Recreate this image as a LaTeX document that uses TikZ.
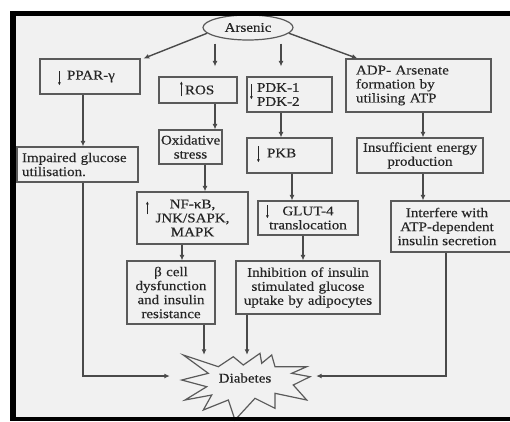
\documentclass[tikz,border=0pt]{standalone}
\usepackage{fontspec}
\setmainfont[FakeStretch=1.13,FakeBold=0.4]{Liberation Serif}
\usetikzlibrary{arrows.meta,calc,shapes.geometric}
\definecolor{bg}{HTML}{F1F1F1}
\definecolor{boxline}{HTML}{5A5A5A}
\definecolor{arrline}{HTML}{4A4A4A}
\definecolor{txt}{HTML}{262626}
\tikzset{
  box/.style={draw=boxline, line width=1.2pt, fill=bg, inner sep=0pt, text=txt,
    font=\fontsize{13.3}{14}\selectfont},
  cbox/.style n args={2}{box, minimum width=#1, minimum height=#2, text width=#1-4pt, inner xsep=2pt, align=center},
  lbox/.style n args={2}{box, minimum width=#1, minimum height=#2, text width=#1, inner xsep=0pt, align=left},
  arr/.style={draw=arrline, line width=1.4pt, -{Latex[length=5.5pt,width=5pt]}},
  sym/.style={draw=txt, line width=0.9pt, -{Latex[length=3pt,width=3pt]}},
}
\newcommand{\ind}[1]{\hspace*{#1}}
\begin{document}
\begin{tikzpicture}[x=1pt,y=-1pt]
\useasboundingbox (0,0) rectangle (510,421);
\fill[white] (0,0) rectangle (510,421);
\fill[bg] (10,11) rectangle (512,421);

% Arsenic
\node[ellipse, draw=boxline, line width=1.2pt, fill=bg, minimum width=90pt, minimum height=25pt, inner sep=0pt, text=txt, font=\fontsize{13.3}{14}\selectfont] (ars) at (248,27.5) {Arsenic};

% boxes
\node[lbox={100pt}{35pt}] (ppar) at (90,76.5) {\ind{27pt}PPAR-γ};
\node[lbox={78pt}{26pt}] (ros) at (198,90) {\ind{26pt}ROS};
\node[cbox={63pt}{34pt}] (oxi) at (190.5,147) {Oxidative\\stress};
\node[cbox={111pt}{52pt}] (nf) at (192.5,218) {NF-κB,\\JNK/SAPK,\\MAPK};
\node[cbox={88pt}{63pt}] (beta) at (171,292.5) {β cell\\dysfunction\\and insulin\\resistance};
\node[lbox={85pt}{35pt}] (pdk) at (289.5,94.5) {\ind{10pt}PDK-1\\\ind{10pt}PDK-2};
\node[lbox={85pt}{35pt}] (pkb) at (289.5,155.5) {\ind{20pt}\raisebox{5pt}{PKB}};
\node[cbox={100pt}{34pt}] (glut) at (308,218) {GLUT-4\\translocation};
\node[cbox={144pt}{53pt}] (inh) at (308,287.5) {Inhibition of insulin\\stimulated glucose\\uptake by adipocytes};
\node[lbox={145pt}{53pt}] (adp) at (418.5,85.5) {\ind{10pt}ADP- Arsenate\\\ind{10pt}formation by\\\ind{10pt}utilising ATP};
\node[cbox={126pt}{35pt}] (ins) at (420,155.5) {Insufficient energy\\production};
\node[box, minimum height=51pt] (intf) at (451,226.5) {\parbox{112pt}{\centering Interfere with\\ATP-dependent\\insulin secretion}\hspace*{8pt}};
\node[lbox={121pt}{35pt}] (imp) at (77.5,164.5) {\ind{5pt}Impaired glucose\\\ind{5pt}utilisation.};

% Diabetes
\node[minimum width=146pt, minimum height=42pt, inner sep=0pt] (dia) at (243,376) {};
\begin{scope}[shift={(dia.center)}]
\draw[draw=boxline, line width=1.2pt, fill=bg, line join=miter]
 (-59.7,-21) -- (-24.7,-9.3) -- (-9.7,-19.3) -- (0.3,-11) -- (17,-22.7) -- (18.7,-12.7)
 -- (28.7,-21) -- (32,-9.3) -- (63.7,-9.3) -- (48.7,-2.7) -- (67,0.7) -- (50.3,9)
 -- (63.7,24) -- (32,17.3) -- (32,32.3) -- (12,22.3) -- (-8,44) -- (-14.7,24)
 -- (-39.7,34) -- (-31.3,19) -- (-58,24) -- (-36.3,10.7) -- (-61.3,4) -- (-34.7,-2.7) -- cycle;
\node[text=txt, font=\fontsize{13.3}{14}\selectfont] (diatext) at (2,2) {Diabetes};
\end{scope}

% symbol arrows inside boxes
\draw[sym] ($(ppar.north west)+(20,13)$) -- ($(ppar.north west)+(20,27)$);
\draw[sym] ($(ros.north west)+(23,20)$) -- ($(ros.north west)+(23,5)$);
\draw[sym] ($(nf.north west)+(11,23)$) -- ($(nf.north west)+(11,10)$);
\draw[sym] ($(pdk.north west)+(5,8)$) -- ($(pdk.north west)+(5,23)$);
\draw[sym] ($(pkb.north west)+(12,9)$) -- ($(pkb.north west)+(12,25)$);
\draw[sym] ($(glut.north west)+(10,5)$) -- ($(glut.north west)+(10,18)$);

% x positions for vertical connectors
\coordinate (x83) at (83,0);
\coordinate (x215) at (215,0);
\coordinate (x281) at (281,0);
\coordinate (x205) at (205,0);
\coordinate (x182) at (182,0);
\coordinate (x292) at (292,0);
\coordinate (x303) at (303,0);
\coordinate (x423) at (423,0);
\coordinate (x204) at (204,0);
\coordinate (x247) at (247,0);
\coordinate (x446) at (446,0);

% connectors
\draw[arr] (ars.188) -- ([xshift=3pt]ppar.north east);
\draw[arr, shorten <=3pt, shorten >=10pt] (ars.south -| x215) -- (ros.north -| x215);
\draw[arr, shorten <=3pt, shorten >=10pt] (ars.south -| x281) -- (pdk.north -| x281);
\draw[arr] (ars.-8) -- ([xshift=12pt]adp.north west);
\draw[arr] (ppar.south -| x83) -- (imp.north -| x83);
\draw[arr] (ros.south -| x215) -- (oxi.north -| x215);
\draw[arr] (oxi.south -| x205) -- (nf.north -| x205);
\draw[arr] (nf.south -| x182) -- (beta.north -| x182);
\draw[arr] (pdk.south -| x281) -- (pkb.north -| x281);
\draw[arr] (pkb.south -| x292) -- (glut.north -| x292);
\draw[arr] (glut.south -| x303) -- (inh.north -| x303);
\draw[arr] (adp.south -| x423) -- (ins.north -| x423);
\draw[arr] (ins.south -| x423) -- (intf.north -| x423);
\draw[arr] (imp.south -| x83) |- (dia.west);
\draw[arr] (beta.south -| x204) -- (dia.north -| x204);
\draw[arr] (inh.south -| x247) -- (dia.north -| x247);
\draw[arr] (intf.south -| x446) |- (dia.east);

% frame
\fill[black] (10,11) rectangle (512,16);
\fill[black] (10,11) rectangle (16,421);
\fill[black] (10,417) rectangle (512,421);
\end{tikzpicture}
\end{document}
